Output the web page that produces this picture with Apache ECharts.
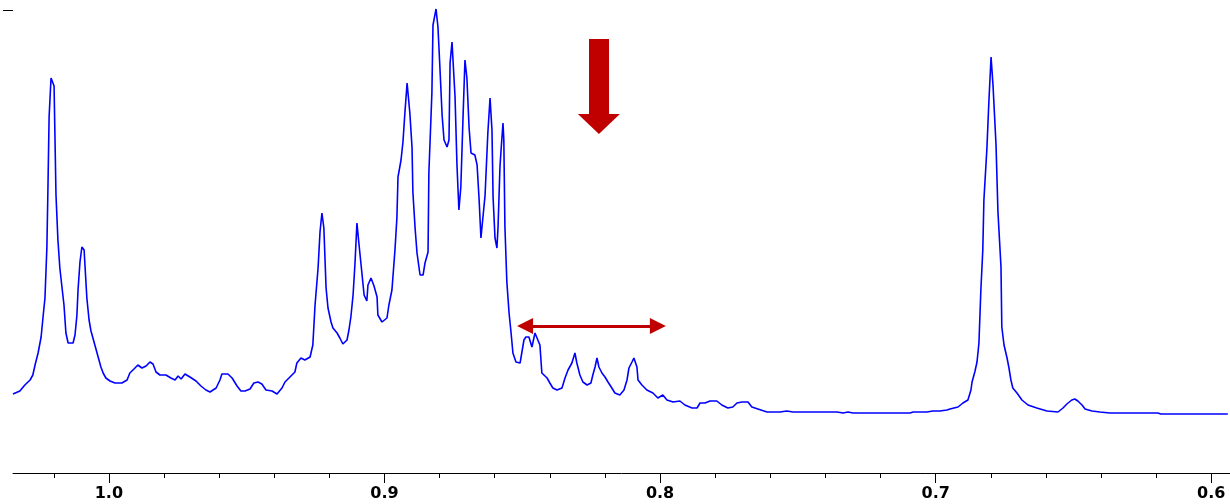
<!DOCTYPE html>
<html>
<head>
<meta charset="utf-8">
<script src="https://cdn.jsdelivr.net/npm/echarts@6/dist/echarts.min.js"></script>
<style>
html,body{margin:0;padding:0;background:#fff;}
#chart{width:1230px;height:504px;}
</style>
</head>
<body>
<div id="chart"></div>
<script>
// chemical shift (ppm) and intensity
const shift = [
1.0348,1.0323,1.0305,1.0286,1.0276,1.0268,1.0257,1.0246,1.0239,1.0232,1.0225,1.0221,1.0217,1.0210,1.0207,1.0199,1.0192,1.0185,1.0178,1.0170,
1.0163,1.0156,1.0148,1.0130,1.0123,1.0116,1.0112,1.0105,1.0098,1.0090,1.0080,1.0072,1.0065,1.0058,1.0051,1.0043,1.0036,1.0029,1.0021,1.0011,
0.9996,0.9978,0.9953,0.9934,0.9924,0.9909,0.9895,0.9880,0.9865,0.9851,0.9840,0.9829,0.9815,0.9793,0.9775,0.9760,0.9749,0.9738,0.9724,0.9706,
0.9684,0.9666,0.9648,0.9633,0.9611,0.9597,0.9590,0.9568,0.9553,0.9535,0.9521,0.9506,0.9488,0.9474,0.9459,0.9445,0.9430,0.9408,0.9390,0.9372,
0.9361,0.9343,0.9325,0.9318,0.9303,0.9289,0.9270,0.9260,0.9252,0.9241,0.9234,0.9227,0.9220,0.9212,0.9205,0.9194,0.9187,0.9172,0.9162,0.9151,
0.9136,0.9129,0.9122,0.9114,0.9107,0.9100,0.9093,0.9082,0.9074,0.9064,0.9060,0.9049,0.9038,0.9027,0.9024,0.9009,0.8991,0.8984,0.8973,0.8962,
0.8955,0.8951,0.8940,0.8933,0.8926,0.8918,0.8908,0.8900,0.8897,0.8889,0.8882,0.8871,0.8860,0.8853,0.8842,0.8839,0.8828,0.8824,0.8813,0.8806,
0.8799,0.8791,0.8784,0.8773,0.8766,0.8762,0.8755,0.8748,0.8744,0.8737,0.8730,0.8723,0.8715,0.8708,0.8701,0.8693,0.8686,0.8672,0.8664,0.8657,
0.8650,0.8643,0.8635,0.8628,0.8625,0.8617,0.8610,0.8606,0.8599,0.8592,0.8588,0.8581,0.8577,0.8570,0.8567,0.8563,0.8556,0.8548,0.8541,0.8534,
0.8523,0.8508,0.8501,0.8494,0.8487,0.8476,0.8465,0.8454,0.8447,0.8436,0.8429,0.8410,0.8400,0.8389,0.8374,0.8356,0.8345,0.8334,0.8320,0.8309,
0.8302,0.8291,0.8280,0.8265,0.8251,0.8244,0.8236,0.8229,0.8222,0.8211,0.8200,0.8189,0.8175,0.8164,0.8146,0.8131,0.8120,0.8113,0.8102,0.8095,
0.8084,0.8080,0.8066,0.8048,0.8026,0.8008,0.7990,0.7975,0.7953,0.7928,0.7910,0.7884,0.7866,0.7855,0.7837,0.7819,0.7794,0.7776,0.7754,0.7736,
0.7721,0.7703,0.7681,0.7667,0.7645,0.7612,0.7565,0.7540,0.7518,0.7493,0.7445,0.7358,0.7336,0.7318,0.7300,0.7202,0.7093,0.7082,0.7032,0.7010,
0.6985,0.6959,0.6948,0.6919,0.6901,0.6883,0.6872,0.6868,0.6858,0.6850,0.6843,0.6836,0.6829,0.6825,0.6814,0.6807,0.6799,0.6792,0.6781,0.6774,
0.6763,0.6760,0.6752,0.6741,0.6734,0.6727,0.6720,0.6705,0.6687,0.6665,0.6633,0.6596,0.6556,0.6538,0.6524,0.6506,0.6495,0.6484,0.6469,0.6458,
0.6433,0.6404,0.6368,0.6259,0.6194,0.6183,0.6150,0.5940
];
const intensity = [
79,82,88,93,98,108,120,136,156,175,226,288,356,395,396,387,278,233,205,185,
168,140,130,130,138,158,183,211,226,223,175,153,142,135,128,120,113,106,100,95,
92,90,90,93,100,104,108,105,107,111,109,101,98,98,95,93,97,94,99,96,
92,87,83,81,85,93,99,99,95,87,82,82,84,90,91,89,83,82,79,85,
91,96,101,110,115,113,116,128,168,205,241,260,245,185,165,151,145,140,135,129,
133,143,156,178,210,250,230,200,178,172,188,195,187,176,158,151,155,168,183,223,
255,296,313,331,360,390,360,325,281,245,220,198,198,210,221,300,380,448,464,446,
406,358,333,326,333,410,431,431,376,308,263,286,356,413,395,345,320,318,308,275,
235,235,278,278,340,375,343,276,235,225,246,306,323,350,333,246,191,160,141,120,
111,110,111,133,136,136,126,140,141,128,100,95,90,85,83,85,95,103,110,120,
110,98,91,88,90,98,106,115,106,100,96,91,85,80,78,83,93,105,111,115,
106,93,88,83,80,75,78,73,71,72,68,65,65,70,70,72,72,68,65,66,
70,71,71,66,64,61,61,62,61,61,61,61,60,61,60,60,60,61,61,62,
62,63,64,66,70,73,83,91,101,111,130,183,223,273,325,371,416,388,328,261,
206,146,128,115,105,93,85,80,73,68,65,62,61,65,69,73,74,72,68,64,
62,61,60,60,60,59,59,59
];
// axis ticks (ppm)
const majorTicks = [0.6, 0.7, 0.8, 0.9, 1.0];
const minorTicks = [0.62, 0.64, 0.66, 0.68, 0.72, 0.74, 0.76, 0.78, 0.82, 0.84, 0.86, 0.88, 0.92, 0.94, 0.96, 0.98, 1.02];
const yTick = [463];
// annotation arrows: [ppm, intensity]
const rangeArrow = [[0.8490, 147], [0.8008, 147]];
const downShaft = [[0.8222, 434], [0.8222, 359]];
const downHead = [[0.8222, 349]];

const xMin = 0.5932, xMax = 1.0348;
const chart = echarts.init(document.getElementById('chart'), null, {renderer: 'canvas'});
const baseX = {
  type: 'value', inverse: true, min: xMin, max: xMax, position: 'bottom',
  splitLine: {show: false}
};
chart.setOption({
  animation: false,
  backgroundColor: '#ffffff',
  grid: {left: 13, right: 0, top: 0, bottom: 31, containLabel: false},
  xAxis: [
    Object.assign({}, baseX, {
      axisLine: {show: true, lineStyle: {color: '#000', width: 1}},
      axisTick: {show: true, customValues: majorTicks, length: 10, lineStyle: {color: '#000', width: 1}},
      axisLabel: {
        show: true, customValues: majorTicks, margin: 13, color: '#000',
        fontFamily: 'DejaVu Sans', fontWeight: 'bold', fontSize: 16,
        formatter: v => v.toFixed(1)
      }
    }),
    Object.assign({}, baseX, {
      axisLine: {show: false},
      axisTick: {show: true, customValues: minorTicks, length: 5, lineStyle: {color: '#000', width: 1}},
      axisLabel: {show: false}
    })
  ],
  yAxis: {
    type: 'value', min: 0, max: 473,
    axisLine: {show: false},
    axisTick: {show: true, customValues: yTick, length: 10, lineStyle: {color: '#000', width: 1}},
    axisLabel: {show: false},
    splitLine: {show: false}
  },
  series: [
    {
      type: 'line', xAxisIndex: 0,
      data: shift.map((s, i) => [s, intensity[i]]),
      showSymbol: false, symbol: 'none',
      lineStyle: {color: '#0000ff', width: 1.6},
      silent: true
    },
    {
      type: 'lines', coordinateSystem: 'cartesian2d', xAxisIndex: 0, silent: true,
      symbol: ['triangle', 'triangle'], symbolSize: 16,
      lineStyle: {color: '#c00000', width: 3, opacity: 1, curveness: 0},
      data: [{coords: rangeArrow}]
    },
    {
      type: 'lines', coordinateSystem: 'cartesian2d', xAxisIndex: 0, silent: true,
      symbol: ['none', 'none'],
      lineStyle: {color: '#c00000', width: 20, opacity: 1, curveness: 0, cap: 'butt'},
      data: [{coords: downShaft}]
    },
    {
      type: 'scatter', xAxisIndex: 0, silent: true,
      symbol: 'triangle', symbolRotate: 180, symbolSize: [42, 20],
      itemStyle: {color: '#c00000', opacity: 1},
      data: downHead
    }
  ]
});
</script>
</body>
</html>
